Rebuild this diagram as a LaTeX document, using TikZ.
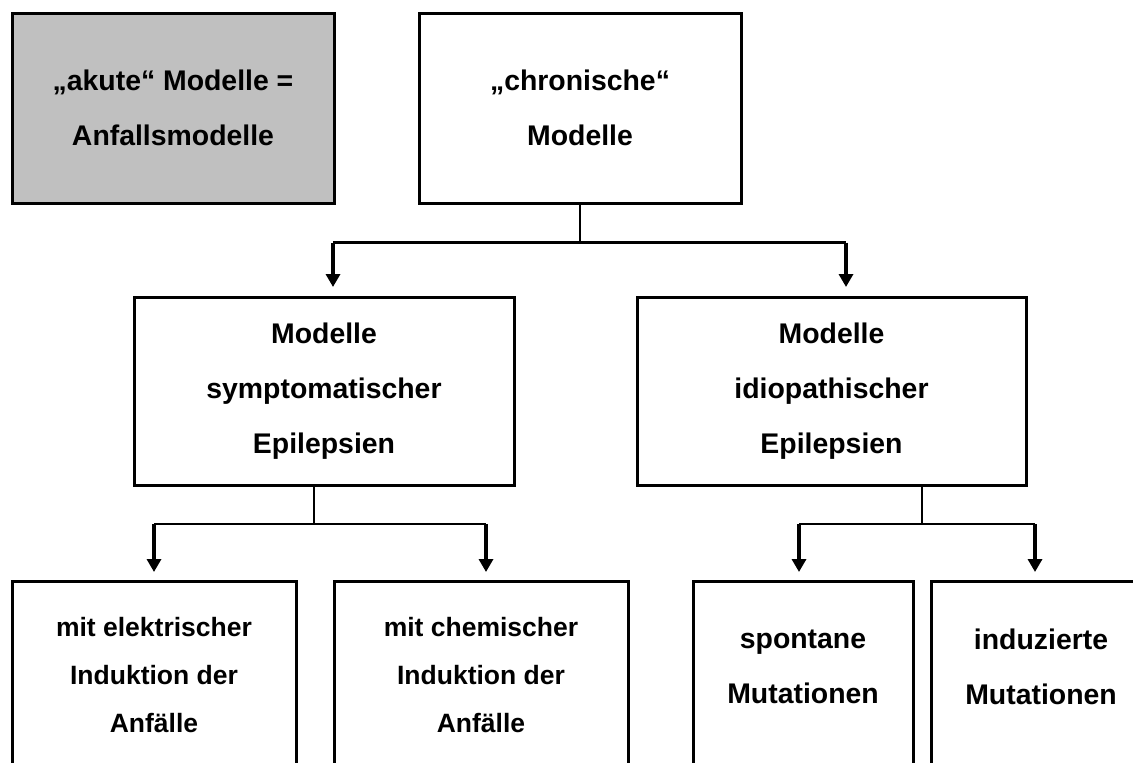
\documentclass[tikz,border=0pt]{standalone}
\usepackage{fontspec}
\setmainfont{Liberation Sans}
\usepackage{tikz}
\usetikzlibrary{arrows.meta}

\definecolor{boxgray}{RGB}{192,192,192}

\begin{document}
\begin{tikzpicture}[x=0.5pt, y=-0.5pt, >={Triangle[length=6.5pt,width=7pt]}]

	\tikzstyle{box}=[draw, line width=1.5pt, align=center, inner sep=0pt, font=\bfseries\fontsize{14.2}{27.5}\selectfont]
	\tikzstyle{small}=[font=\bfseries\fontsize{13.25}{24}\selectfont]
	\tikzstyle{line}=[line width=1.1pt]
	\tikzstyle{arr}=[->, line width=1.75pt]

	\useasboundingbox (0,0) rectangle (1133,762);
	\clip (0,0) rectangle (1133,762);

	% top row
	\node[box, fill=boxgray, minimum width=161pt, minimum height=95pt] (akut) at (173,108) {„akute“ Modelle =\\Anfallsmodelle};
	\node[box, minimum width=161pt, minimum height=95pt] (chron) at (580,108) {„chronische“\\Modelle};

	% middle row
	\node[box, minimum width=190pt, minimum height=94pt] (sym) at (324,391) {Modelle\\symptomatischer\\Epilepsien};
	\node[box, minimum width=194.5pt, minimum height=94pt] (idio) at (831.5,391) {Modelle\\idiopathischer\\Epilepsien};

	% bottom row (cut off by the page)
	\node[box, small, minimum width=142pt, minimum height=94pt] (elek) at (154,675) {mit elektrischer\\Induktion der\\Anfälle};
	\node[box, small, minimum width=147pt, minimum height=94pt] (chem) at (481,675) {mit chemischer\\Induktion der\\Anfälle};
	\node[box, minimum width=110pt, minimum height=94pt] (spon) at (803,675) {spontane\\Mutationen\\[-19pt]\mbox{}};
	\node[box, minimum width=110pt, minimum height=94pt] (ind) at (1041,675) {induzierte\\Mutationen\\[-19pt]\mbox{}};

	% From chron to both groups
	\draw[line] (chron.south) -- ++(0,38) coordinate (j1);
	\coordinate (t1) at (333,287);
	\coordinate (t2) at (846,287);
	\draw[line] (t1 |- j1) -- (t2 |- j1);
	\draw[arr] (t1 |- j1) -- (t1);
	\draw[arr] (t2 |- j1) -- (t2);

	% From sym
	\coordinate (j2) at (314,524);
	\coordinate (t3) at (154,572);
	\coordinate (t4) at (486,572);
	\draw[line] (sym.south -| j2) -- (j2);
	\draw[line] (t3 |- j2) -- (t4 |- j2);
	\draw[arr] (t3 |- j2) -- (t3);
	\draw[arr] (t4 |- j2) -- (t4);

	% From idio
	\coordinate (j3) at (922,524);
	\coordinate (t5) at (799,572);
	\coordinate (t6) at (1035,572);
	\draw[line] (idio.south -| j3) -- (j3);
	\draw[line] (t5 |- j3) -- (t6 |- j3);
	\draw[arr] (t5 |- j3) -- (t5);
	\draw[arr] (t6 |- j3) -- (t6);

\end{tikzpicture}
\end{document}
